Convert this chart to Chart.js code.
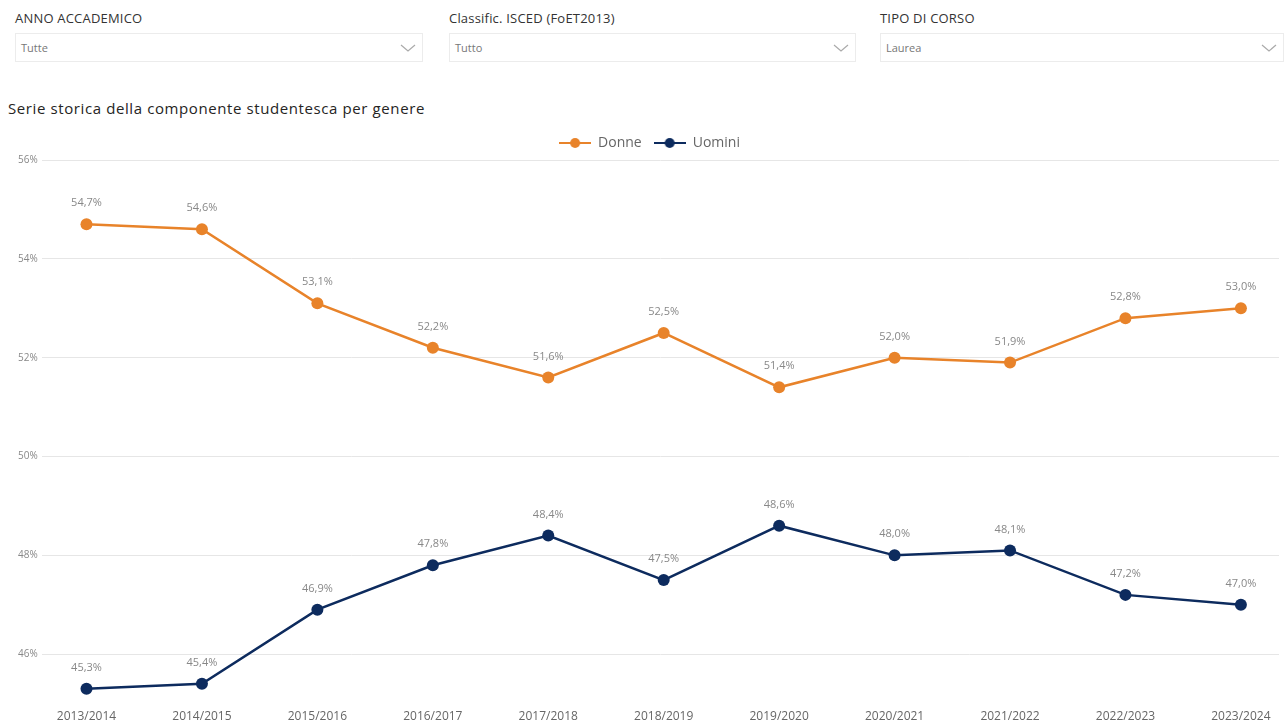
<!DOCTYPE html>
<html>
<head>
<meta charset="utf-8">
<title>Serie storica della componente studentesca per genere</title>
<script src="https://cdn.jsdelivr.net/npm/chart.js@4.4.1/dist/chart.umd.min.js"></script>
<style>
  body { margin: 0; width: 1285px; height: 724px; background: #fff; font-family: "Open Sans", sans-serif; position: relative; overflow: hidden; }
  .filter { position: absolute; top: 0; }
  .filter .lbl { position: absolute; top: 9px; left: 0; font-size: 13px; letter-spacing: 0.2px; color: #333; white-space: nowrap; }
  .filter .box { position: absolute; top: 33px; left: 0; height: 29px; border: 1px solid #ececec; box-sizing: border-box; }
  .filter .box span { position: absolute; left: 5px; top: 6px; font-size: 11px; color: #777; }
  .filter .box svg { position: absolute; right: 6px; top: 9px; }
  #title { position: absolute; left: 8px; top: 98px; font-size: 15px; letter-spacing: 0.6px; color: #252423; white-space: nowrap; }
  #chart { position: absolute; left: 0; top: 120px; }
</style>
</head>
<body>
<div class="filter" style="left:15px;width:408px">
  <div class="lbl">ANNO ACCADEMICO</div>
  <div class="box" style="width:408px"><span>Tutte</span>
    <svg width="16" height="10"><polyline points="1,2 8,8 15,2" fill="none" stroke="#aaa" stroke-width="1.2"/></svg></div>
</div>
<div class="filter" style="left:449px;width:407px">
  <div class="lbl">Classific. ISCED (FoET2013)</div>
  <div class="box" style="width:407px"><span>Tutto</span>
    <svg width="16" height="10"><polyline points="1,2 8,8 15,2" fill="none" stroke="#aaa" stroke-width="1.2"/></svg></div>
</div>
<div class="filter" style="left:880px;width:404px">
  <div class="lbl">TIPO DI CORSO</div>
  <div class="box" style="width:404px"><span>Laurea</span>
    <svg width="16" height="10"><polyline points="1,2 8,8 15,2" fill="none" stroke="#aaa" stroke-width="1.2"/></svg></div>
</div>
<div id="title">Serie storica della componente studentesca per genere</div>
<canvas id="chart" width="1285" height="602"></canvas>

<script>
// anni accademici e quote percentuali per genere
var anni = ['2013/2014', '2014/2015', '2015/2016', '2016/2017', '2017/2018', '2018/2019',
            '2019/2020', '2020/2021', '2021/2022', '2022/2023', '2023/2024'];
var donne = [54.7, 54.6, 53.1, 52.2, 51.6, 52.5, 51.4, 52.0, 51.9, 52.8, 53.0];
var uomini = [45.3, 45.4, 46.9, 47.8, 48.4, 47.5, 48.6, 48.0, 48.1, 47.2, 47.0];
var yTicks = [46, 48, 50, 52, 54, 56];

var ARANCIO = '#E8832A';
var BLU = '#0D2B5E';

// simbolo legenda: linea con pallino
function legendIcon(color) {
  var c = document.createElement('canvas');
  c.width = 32; c.height = 12;
  var g = c.getContext('2d');
  g.strokeStyle = color; g.lineWidth = 2;
  g.beginPath(); g.moveTo(0, 6); g.lineTo(32, 6); g.stroke();
  g.fillStyle = color;
  g.beginPath(); g.arc(16, 6, 5, 0, Math.PI * 2); g.fill();
  return c;
}

function fmt(v) { return v.toFixed(1).replace('.', ',') + '%'; }

// etichette dei valori sopra i punti
var valueLabels = {
  id: 'valueLabels',
  afterDatasetsDraw: function (chart) {
    var ctx = chart.ctx;
    ctx.save();
    ctx.font = '11px "Open Sans", sans-serif';
    ctx.fillStyle = '#888';
    ctx.textAlign = 'center';
    ctx.textBaseline = 'middle';
    chart.data.datasets.forEach(function (ds, di) {
      chart.getDatasetMeta(di).data.forEach(function (pt, i) {
        ctx.fillText(fmt(ds.data[i].y), pt.x, pt.y - 21);
      });
    });
    ctx.restore();
  }
};

function pts(arr) { return arr.map(function (v, i) { return { x: i, y: v }; }); }

new Chart(document.getElementById('chart'), {
  type: 'line',
  data: {
    datasets: [
      { label: 'Donne', data: pts(donne), borderColor: ARANCIO, backgroundColor: ARANCIO,
        borderWidth: 2.5, pointRadius: 6, pointBackgroundColor: ARANCIO, pointBorderWidth: 0 },
      { label: 'Uomini', data: pts(uomini), borderColor: BLU, backgroundColor: BLU,
        borderWidth: 2.5, pointRadius: 6, pointBackgroundColor: BLU, pointBorderWidth: 0 }
    ]
  },
  options: {
    responsive: false,
    animation: false,
    layout: { padding: { left: 14, right: 0, top: 4, bottom: 0 } },
    plugins: {
      tooltip: { enabled: false },
      legend: {
        position: 'top',
        labels: {
          usePointStyle: true,
          pointStyleWidth: 32,
          color: '#666',
          font: { family: 'Open Sans', size: 14 },
          padding: 12,
          generateLabels: function (chart) {
            return chart.data.datasets.map(function (ds, i) {
              return { text: ds.label, pointStyle: legendIcon(ds.borderColor), fontColor: '#666',
                       datasetIndex: i, lineWidth: 0, strokeStyle: 'transparent', fillStyle: ds.borderColor };
            });
          }
        }
      }
    },
    scales: {
      x: {
        type: 'linear',
        min: -0.388,
        max: 10.33,
        grid: { display: false },
        border: { display: false },
        afterBuildTicks: function (axis) { axis.ticks = anni.map(function (_, i) { return { value: i }; }); },
        ticks: {
          autoSkip: false,
          maxRotation: 0,
          color: '#666',
          font: { family: 'Open Sans', size: 12 },
          padding: -2,
          callback: function (v) { return anni[v]; }
        }
      },
      y: {
        min: 45,
        max: 56,
        grid: { color: '#e6e6e6', drawTicks: false },
        border: { display: false },
        afterBuildTicks: function (axis) { axis.ticks = yTicks.map(function (v) { return { value: v }; }); },
        ticks: {
          color: '#888',
          font: { family: 'Open Sans', size: 10 },
          padding: 4,
          callback: function (v) { return v + '%'; }
        }
      }
    }
  },
  plugins: [valueLabels]
});
</script>
</body>
</html>
